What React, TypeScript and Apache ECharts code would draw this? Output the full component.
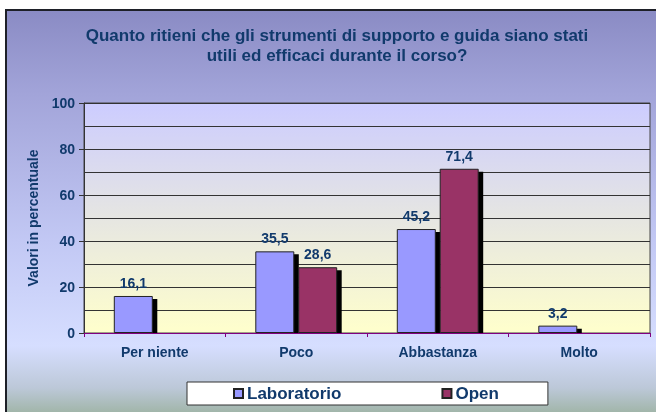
import React, { useEffect, useRef } from "react";
import * as echarts from "echarts";

const categories = ["Per niente", "Poco", "Abbastanza", "Molto"];
const laboratorio: (number | null)[] = [16.1, 35.5, 45.2, 3.2];
const open: (number | null)[] = [null, 28.6, 71.4, null];
const titleLines = [
  "Quanto ritieni che gli strumenti di supporto e guida siano stati",
  "utili ed efficaci durante il corso?",
];
const yAxisName = "Valori in percentuale";

const FONT = "'Liberation Sans', Arial, sans-serif";
const TXT = "#113A6C";
const BAR_W = 39;
const GAP = 3.9;

export default function App() {
  const ref = useRef<HTMLDivElement>(null);
  useEffect(() => {
    if (!ref.current) return;
    const chart = echarts.init(ref.current, null, { renderer: "svg" });
    const labelCfg = {
      show: true,
      position: "top",
      distance: 6,
      color: TXT,
      fontWeight: "bold",
      fontSize: 14,
      fontFamily: FONT,
      formatter: (p: any) => Number(p.value).toFixed(1).replace(".", ","),
    };
    const shadowSeries = (vals: (number | null)[], side: number) => ({
      type: "custom",
      silent: true,
      z: 1,
      legendHoverLink: false,
      data: vals
        .map((v, i) => (v == null ? null : [i, v]))
        .filter((d) => d !== null),
      renderItem: (params: any, api: any) => {
        const i = api.value(0);
        const v = api.value(1);
        const base = api.coord([i, 0]);
        const top = api.coord([i, v]);
        const cx = base[0] + side * (BAR_W + GAP) / 2;
        const h = base[1] - top[1] - 3;
        if (h <= 0) return null;
        return {
          type: "rect",
          shape: { x: cx - BAR_W / 2 + 4.5, y: top[1] + 3, width: BAR_W, height: h },
          style: { fill: "#000" },
        };
      },
    });
    chart.setOption({
      animation: false,
      graphic: [
        {
          type: "rect",
          z: -100,
          silent: true,
          shape: { x: 6, y: 10, width: 670, height: 420 },
          style: {
            fill: new echarts.graphic.LinearGradient(0, 0, 0, 1, [
              { offset: 0, color: "#8A8BC4" },
              { offset: 0.2, color: "#A2A4D9" },
              { offset: 0.55, color: "#C2C8F4" },
              { offset: 0.8, color: "#D6DEFF" },
              { offset: 0.9, color: "#BCC8D8" },
              { offset: 1, color: "#8EA888" },
            ]),
            stroke: "#1E2028",
            lineWidth: 2,
          },
        },
        {
          type: "text",
          x: 337,
          y: 25,
          style: {
            text: titleLines.join("\n"),
            align: "center",
            fill: TXT,
            font: `bold 17px ${FONT}`,
            lineHeight: 20,
          },
        },
      ],
      grid: {
        left: 84,
        top: 103,
        right: 6,
        bottom: 79,
        show: true,
        borderColor: "#444",
        borderWidth: 1,
        backgroundColor: new echarts.graphic.LinearGradient(0, 0, 0, 1, [
          { offset: 0, color: "#CCCCFF" },
          { offset: 0.5, color: "#E6E6E2" },
          { offset: 1, color: "#FFFFCC" },
        ]),
      },
      legend: {
        data: ["Laboratorio", "Open"],
        left: 187,
        top: 382,
        backgroundColor: "#FFFFFF",
        borderColor: "#333",
        borderWidth: 1,
        borderRadius: 0,
        padding: [3, 49, 3, 46],
        itemGap: 100,
        itemWidth: 9,
        itemHeight: 9,
        icon: "rect",
        textStyle: {
          color: TXT,
          fontWeight: "bold",
          fontSize: 17,
          fontFamily: FONT,
          padding: [0, 0, 0, -1],
        },
      },
      xAxis: {
        type: "category",
        data: categories,
        axisLine: { lineStyle: { color: "#800080", width: 1 } },
        axisTick: { show: true, length: 4, lineStyle: { color: "#800080" } },
        axisLabel: {
          color: TXT,
          fontWeight: "bold",
          fontSize: 14,
          fontFamily: FONT,
          margin: 12,
        },
      },
      yAxis: {
        type: "value",
        min: 0,
        max: 100,
        interval: 20,
        name: yAxisName,
        nameLocation: "middle",
        nameGap: 44,
        nameTextStyle: {
          color: TXT,
          fontWeight: "bold",
          fontSize: 14,
          fontFamily: FONT,
        },
        axisLine: { show: true, lineStyle: { color: "#333" } },
        axisTick: { show: true, length: 5, lineStyle: { color: "#333" } },
        axisLabel: {
          color: TXT,
          fontWeight: "bold",
          fontSize: 14,
          fontFamily: FONT,
          margin: 9,
        },
        splitLine: { show: true, lineStyle: { color: "#333", width: 1 } },
        minorTick: { show: false, splitNumber: 2 },
        minorSplitLine: { show: true, lineStyle: { color: "#333", width: 1 } },
      },
      series: [
        shadowSeries(laboratorio, -1),
        shadowSeries(open, 1),
        {
          name: "Laboratorio",
          type: "bar",
          z: 2,
          data: laboratorio,
          barWidth: BAR_W,
          barGap: "10%",
          itemStyle: { color: "#9999FF", borderColor: "#222", borderWidth: 1 },
          label: labelCfg,
        },
        {
          name: "Open",
          type: "bar",
          z: 2,
          data: open,
          barWidth: BAR_W,
          barGap: "10%",
          itemStyle: { color: "#993366", borderColor: "#222", borderWidth: 1 },
          label: labelCfg,
        },
      ],
    });
    return () => chart.dispose();
  }, []);
  return (
    <div
      ref={ref}
      style={{ position: "fixed", left: 0, top: 0, width: 656, height: 412 }}
    />
  );
}
